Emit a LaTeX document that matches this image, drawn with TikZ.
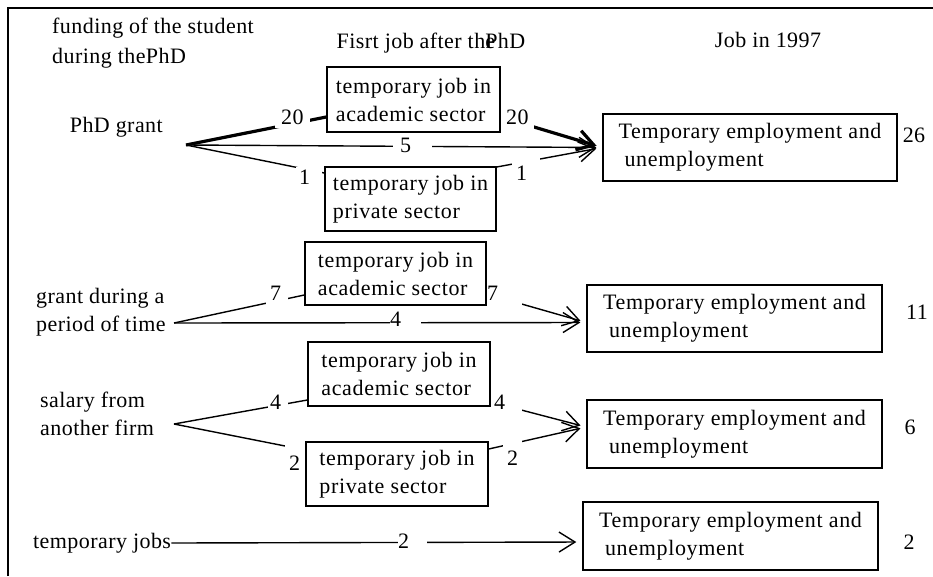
\documentclass[tikz,border=0pt]{standalone}
\usepackage{fontspec}
\setmainfont{Liberation Serif}[LetterSpace=2]
\newfontfamily\boxfont[LetterSpace=3]{Liberation Serif}
\usetikzlibrary{arrows.meta,backgrounds}
\newcommand{\numpad}[1]{\hbox to #1{}}

\begin{document}
\begin{tikzpicture}[x=1pt, y=-1pt,
        every node/.style={font=\fontsize{22}{28}\selectfont, inner sep=0pt},
        jobbox/.style={draw, line width=1.4pt, align=left, font=\boxfont\fontsize{22}{28}\selectfont},
        num/.style={anchor=west, fill=white, inner xsep=0pt},
        flow/.style={line width=1.4pt},
        heavy/.style={line width=3.2pt},
        tip/.style={-{Straight Barb[length=16pt,width=20pt]}, shorten >=6pt}]
  \useasboundingbox (0,0) rectangle (933,576);
  \draw[line width=1.5pt] (8,576) -- (8,8) -- (933,8);

  % column heads
  \node[anchor=west, align=left, font=\fontsize{22}{30}\selectfont] (headfund) at (52,43) {funding of the student\\during thePhD};
  \node (headfirst) at (431,43) {Fisrt job after th\rlap{e}PhD};
  \node (headjob) at (768,40) {Job in 1997};

  % funding of the student
  \node[anchor=east] (phd) at (163,127) {PhD grant};
  \node[anchor=west, align=left] (grant) at (36,312) {grant during a\\period of time};
  \node[anchor=west, align=left] (salary) at (40,414) {salary from\\another firm};
  \node[anchor=west] (tjobs) at (33,543) {temporary jobs};
  \coordinate (s1) at (186,145);
  \coordinate (s2) at (174,323);
  \coordinate (s3) at (174,424);

  % first job
  \node[jobbox, minimum width=173, minimum height=65] (acad1) at (413.5,99.5) {temporary job in\\academic sector};
  \node[jobbox, minimum width=171, minimum height=64] (priv1) at (410.5,199) {temporary job in\\private sector};
  \node[jobbox, minimum width=181, minimum height=63] (acad2) at (395.5,273.5) {temporary job in\\academic sector};
  \node[jobbox, minimum width=182, minimum height=64] (acad3) at (399,374) {temporary job in\\academic sector};
  \node[jobbox, minimum width=182, minimum height=64] (priv3) at (397,474) {temporary job in\\private sector};

  % job in 1997
  \node[jobbox, minimum width=294, minimum height=67] (temp1) at (750,147.5) {Temporary employment and\\\hspace{6pt}unemployment};
  \node[jobbox, minimum width=295, minimum height=67] (temp2) at (734.5,318.5) {Temporary employment and\\\hspace{6pt}unemployment};
  \node[jobbox, minimum width=295, minimum height=68] (temp3) at (734.5,434) {Temporary employment and\\\hspace{6pt}unemployment};
  \node[jobbox, minimum width=295, minimum height=68] (temp4) at (730.5,536) {Temporary employment and\\\hspace{6pt}unemployment};
  \node (tot1) at (914,135) {26};
  \node (tot2) at (917,312) {11};
  \node (tot3) at (910,427) {6};
  \node (tot4) at (909,542) {2};

  \begin{scope}[on background layer]
    \draw[heavy] (s1) -- ([yshift=-17.5pt]acad1.west);
    \draw[heavy, tip] ([yshift=-17.5pt]acad1.east) -- (temp1.west);
    \draw[flow, tip] (s1) -- (temp1.west);
    \draw[flow] (s1) -- ([yshift=26pt]priv1.west);
    \draw[flow, tip] ([yshift=32pt]priv1.east) -- (temp1.west);
    \node[num, inner ysep=4pt] (c20a) at (275,117) {\numpad{6pt}20\numpad{6pt}};
    \node[num, inner ysep=6pt] (c20b) at (500,117) {\numpad{6pt}20\numpad{5pt}};
    \node[num, inner ysep=2pt] (c5) at (393,145) {\numpad{7pt}5\numpad{21pt}};
    \node[num, inner ysep=3pt] (c1a) at (296,177) {\numpad{3pt}1\numpad{12pt}};
    \node[num, inner ysep=9pt] (c1b) at (512,173) {\numpad{4pt}1\numpad{13pt}};

    \draw[flow] (s2) -- ([yshift=-21.5pt]acad2.west);
    \draw[flow, tip] ([yshift=-20.5pt]acad2.east) -- ([yshift=-4pt]temp2.west);
    \draw[flow, tip] (s2) -- ([yshift=-4pt]temp2.west);
    \node[num, inner ysep=5pt] (c7a) at (266,293) {\numpad{4pt}7\numpad{7pt}};
    \node[num, inner ysep=6pt] (c7b) at (486,293) {\numpad{1pt}7\numpad{24pt}};
    \node[num, inner ysep=2pt] (c4) at (390,319) {4\numpad{20pt}};

    \draw[flow] (s3) -- ([yshift=-26pt]acad3.west);
    \draw[flow, tip] ([yshift=-28pt]acad3.east) -- ([yshift=7pt]temp3.west);
    \draw[flow] (s3) -- ([yshift=24pt]priv3.west);
    \draw[flow, tip] ([yshift=25pt]priv3.east) -- ([yshift=7pt]temp3.west);
    \node[num, inner ysep=3pt] (c4a) at (268,402) {\numpad{2pt}4\numpad{7pt}};
    \node[num, inner ysep=4pt] (c4b) at (491,402) {\numpad{3pt}4\numpad{17pt}};
    \node[num, inner ysep=11pt] (c2a) at (285,463) {\numpad{4pt}2\numpad{6pt}};
    \node[num, inner ysep=11pt] (c2b) at (503,458) {\numpad{4pt}2\numpad{4pt}};

    \draw[flow, tip] (tjobs.east) -- ([yshift=-6pt]temp4.west);
    \node[num, inner ysep=2pt] (c2) at (398,541) {2\numpad{18pt}};
  \end{scope}
\end{tikzpicture}
\end{document}
